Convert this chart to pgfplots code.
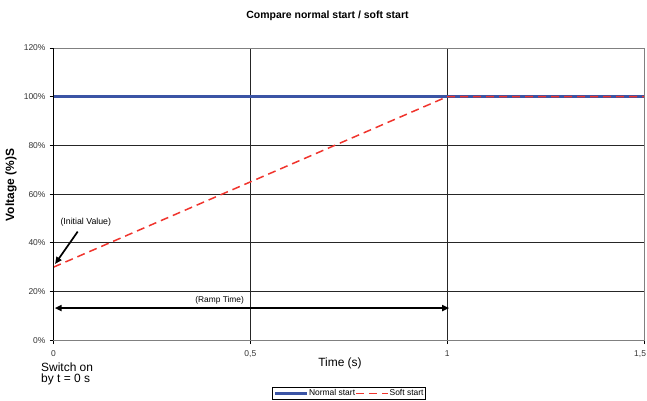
\documentclass[border=0pt]{standalone}
\usepackage{pgfplots}
\pgfplotsset{compat=1.18}
\usepackage{fontspec}
\setmainfont{Liberation Sans}
\usetikzlibrary{arrows.meta}

\definecolor{normalblue}{RGB}{59,84,165}
\definecolor{softred}{RGB}{240,52,45}
\definecolor{framegray}{RGB}{128,128,128}

\begin{document}
\begin{tikzpicture}[x=1bp,y=1bp]
\useasboundingbox (0,0) rectangle (647,400);

% titles and free text
\node[font=\bfseries\fontsize{10.5}{12}\selectfont] at (327.5,384) {Compare normal start / soft start};
\node[font=\bfseries\fontsize{12}{14}\selectfont, rotate=90] at (11,215) {Voltage (\%)S};
\node[font=\fontsize{12}{14}\selectfont] at (340,37) {Time (s)};
\node[font=\fontsize{12}{11.5}\selectfont, anchor=west, align=left, inner sep=0pt] at (41,26) {Switch on\\by t = 0 s};

\begin{axis}[
  at={(53.5bp,59.8bp)}, anchor=south west,
  scale only axis, width=590.5bp, height=292.2bp,
  xmin=0, xmax=1.5, ymin=0, ymax=120,
  xtick={0,0.5,1,1.5},
  xticklabels={0,{0,5},1,{\makebox[4bp][r]{1,5}}},
  ytick={0,20,...,120},
  yticklabel={\pgfmathprintnumber{\tick}\%},
  /pgf/number format/assume math mode=true,
  xmajorgrids, ymajorgrids,
  grid style={black!85, line width=0.8bp},
  axis line style={framegray, line width=0.9bp},
  xtick pos=bottom, ytick pos=left,
  tick align=outside, major tick length=4bp,
  tick style={black, line width=0.7bp},
  ticklabel style={font=\fontsize{8.5}{9}\selectfont, text=black!80},
  yticklabel style={xshift=-0.5bp},
  xticklabel style={yshift=-3bp},
  clip=false,
  legend columns=2,
  legend style={
    at={(0.5,-0.161)}, anchor=north,
    draw=black, line width=0.6bp,
    inner xsep=1bp, inner ysep=0.5bp,
    font=\fontsize{8.5}{9}\selectfont,
    /tikz/every even column/.append style={column sep=0pt},
    nodes={inner xsep=0.5bp, inner ysep=1.5bp},
  },
  legend image code/.code={\draw[#1] (0bp,0bp) -- (32bp,0bp);},
]

\addplot[normalblue, line width=3bp] coordinates {(0,100) (1,100) (1.5,100)};
\addlegendentry{Normal start}

\addplot[softred, line width=1.5bp, dash pattern=on 8bp off 5bp] coordinates {(0,30) (1,100) (1.5,100)};
\addlegendentry{Soft start}

% y axis line
\draw[black, line width=0.9bp] (axis cs:0,0) -- (axis cs:0,120);

% annotations
\draw[black, line width=1.7bp, -{Triangle[length=7bp,width=6bp]}] (axis cs:0.0615,44.6) -- (axis cs:0.004,31.3);
\node[font=\fontsize{8.8}{10}\selectfont] at (axis cs:0.082,48.4) {(Initial Value)};

\draw[black, line width=2bp, {Triangle[length=7bp,width=6bp]}-{Triangle[length=7bp,width=6bp]}] (axis cs:0.003,13.2) -- (axis cs:1.005,13.2);
\node[font=\fontsize{8.4}{10}\selectfont] at (axis cs:0.422,16.3) {(Ramp Time)};

\end{axis}
\end{tikzpicture}
\end{document}
